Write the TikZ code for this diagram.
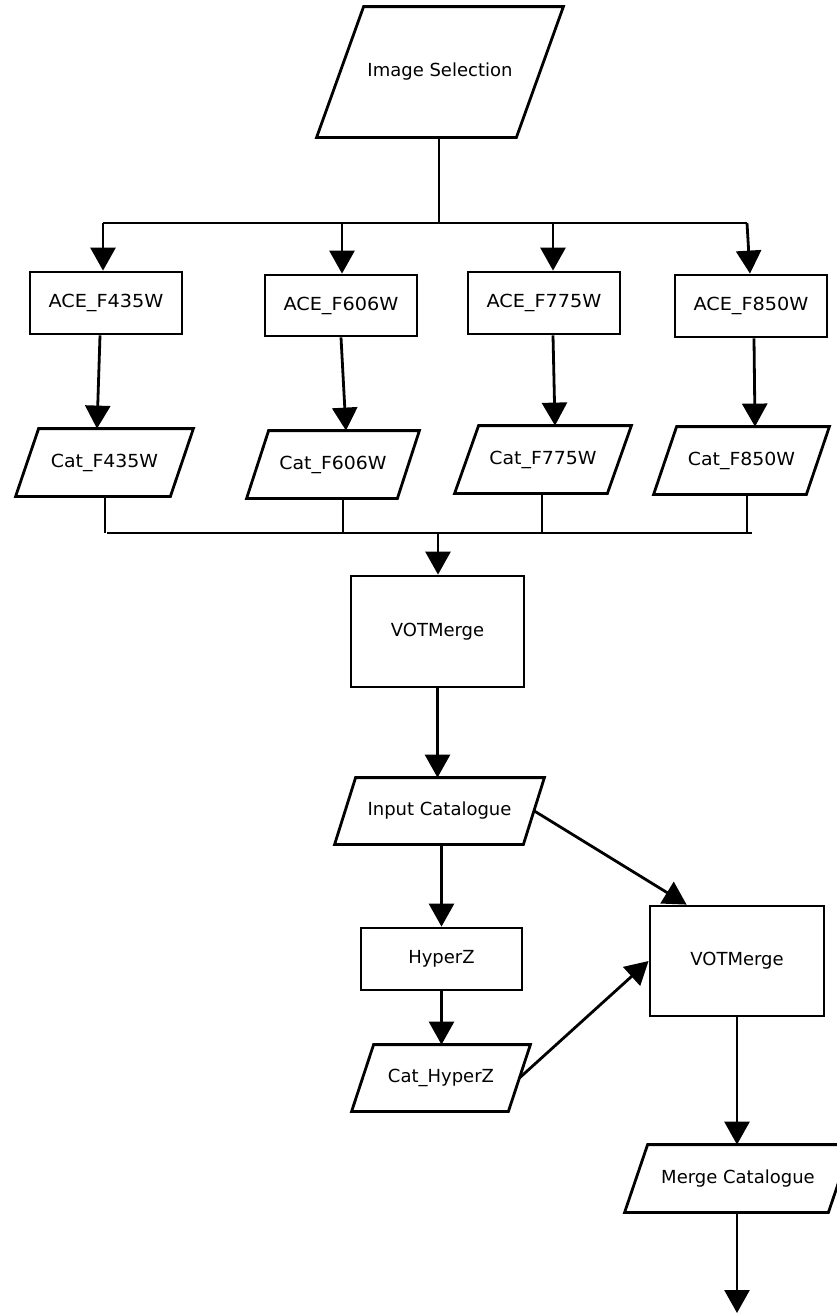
\documentclass[tikz,border=0pt]{standalone}
\usepackage{fontspec}
\setmainfont{DejaVu Sans}
\usetikzlibrary{arrows.meta,calc}
\begin{document}
\begin{tikzpicture}[x=1pt,y=-1pt,
  line width=2.8pt, line join=miter,
  lbl/.style={font=\fontsize{18}{21}\selectfont, inner sep=0pt, align=center},
  procbox/.style n args={2}{lbl, draw, rectangle, minimum width=#1, minimum height=#2},
  databox/.style n args={2}{lbl, rectangle, minimum width=#1, minimum height=#2},
  arr/.style={-{Triangle[width=25pt,length=23pt]}}
]
\useasboundingbox (0,0) rectangle (836,1315);

% input selection
\node[databox={244}{128}] (img) at (440,72) {Image Selection};

% per-filter processing
\node[procbox={152}{62}] (ace1) at (106,303) {\scalebox{1.07}[1]{ACE\_F435W}};
\node[procbox={152}{61}] (ace2) at (341,305.5) {\scalebox{1.07}[1]{ACE\_F606W}};
\node[procbox={152}{62}] (ace3) at (544,303) {\scalebox{1.07}[1]{ACE\_F775W}};
\node[procbox={152}{62}] (ace4) at (751,306) {\scalebox{1.07}[1]{ACE\_F850W}};

\node[databox={175}{65}] (cat1) at (104.5,462.5) {\scalebox{1.05}[1]{Cat\_F435W}};
\node[databox={170}{65}] (cat2) at (333,464.5) {\scalebox{1.05}[1]{Cat\_F606W}};
\node[databox={174}{65}] (cat3) at (543,459.5) {\scalebox{1.05}[1]{Cat\_F775W}};
\node[databox={173}{65}] (cat4) at (741.5,460.5) {\scalebox{1.05}[1]{Cat\_F850W}};

% merging and photometric redshifts
\node[procbox={173}{111}] (vm1) at (437.5,631.5) {VOTMerge};
\node[databox={207}{64}] (inp) at (439.5,811) {Input Catalogue};
\node[procbox={161}{62}] (hz) at (441.5,959) {HyperZ};
\node[databox={176}{64}] (cathz) at (441,1078) {Cat\_HyperZ};
\node[procbox={174}{110}] (vm2) at (737,961) {VOTMerge};
\node[databox={224}{65}] (mrg) at (738,1178.5) {Merge Catalogue};

% parallelogram outlines of the data nodes (name/slant)
\foreach \n/\s in {img/47, cat1/23, cat2/22, cat3/24, cat4/23, inp/21, cathz/22, mrg/23}
  \draw (\n.south west) -- ([xshift=-\s pt]\n.south east) -- (\n.north east)
        -- ([xshift=\s pt]\n.north west) -- cycle;

% fan-out bus
\coordinate (imgj) at (439,223);
\coordinate (t1) at (103,223);
\coordinate (t2) at (342,223);
\coordinate (t3) at (553,223);
\coordinate (t4) at (747,223);
\draw (imgj |- img.south) -- (imgj);
\draw (t1) -- (t4);
\draw[arr] (t1) -- (t1 |- ace1.north);
\draw[arr] (t2) -- (t2 |- ace2.north);
\draw[arr] (t3) -- (t3 |- ace3.north);
\draw[arr] (t4) -- ($(t4 |- ace4.north)+(3,0)$);

% filter catalogues
\draw[arr] ($(ace1.south)+(-6,0)$) -- ($(ace1.south |- cat1.north)+(-9,0)$);
\draw[arr] (ace2.south) -- ($(ace2.south |- cat2.north)+(5,0)$);
\draw[arr] ($(ace3.south)+(9,0)$) -- ($(ace3.south |- cat3.north)+(11,0)$);
\draw[arr] ($(ace4.south)+(3,0)$) -- ($(ace4.south |- cat4.north)+(4,0)$);

% fan-in bus
\coordinate (b1) at (105,533);
\coordinate (b2) at (343,533);
\coordinate (b3) at (542,533);
\coordinate (b4) at (747,533);
\coordinate (bL) at (107,533);
\coordinate (bR) at (752,533);
\coordinate (b0) at (438,533);
\draw (bL) -- (bR);
\draw (b1 |- cat1.south) -- (b1);
\draw (b2 |- cat2.south) -- (b2);
\draw (b3 |- cat3.south) -- (b3);
\draw (b4 |- cat4.south) -- (b4);
\draw[arr] (b0) -- (b0 |- vm1.north);

% downstream
\draw[arr] (vm1.south) -- (vm1.south |- inp.north);
\draw[arr] (hz.north |- inp.south) -- (hz.north);
\draw[arr] (hz.south) -- (hz.south |- cathz.north);
\draw[arr] ($(inp.east)+(-10,0)$) -- ($(vm2.north west)+(38,0)$);
\draw[arr] ($(cathz.east)+(-11,0)$) -- (vm2.west);
\draw[arr] (vm2.south) -- (vm2.south |- mrg.north);
\coordinate (mrgout) at (737,1313);
\draw[arr] (mrgout |- mrg.south) -- (mrgout);
\end{tikzpicture}
\end{document}
